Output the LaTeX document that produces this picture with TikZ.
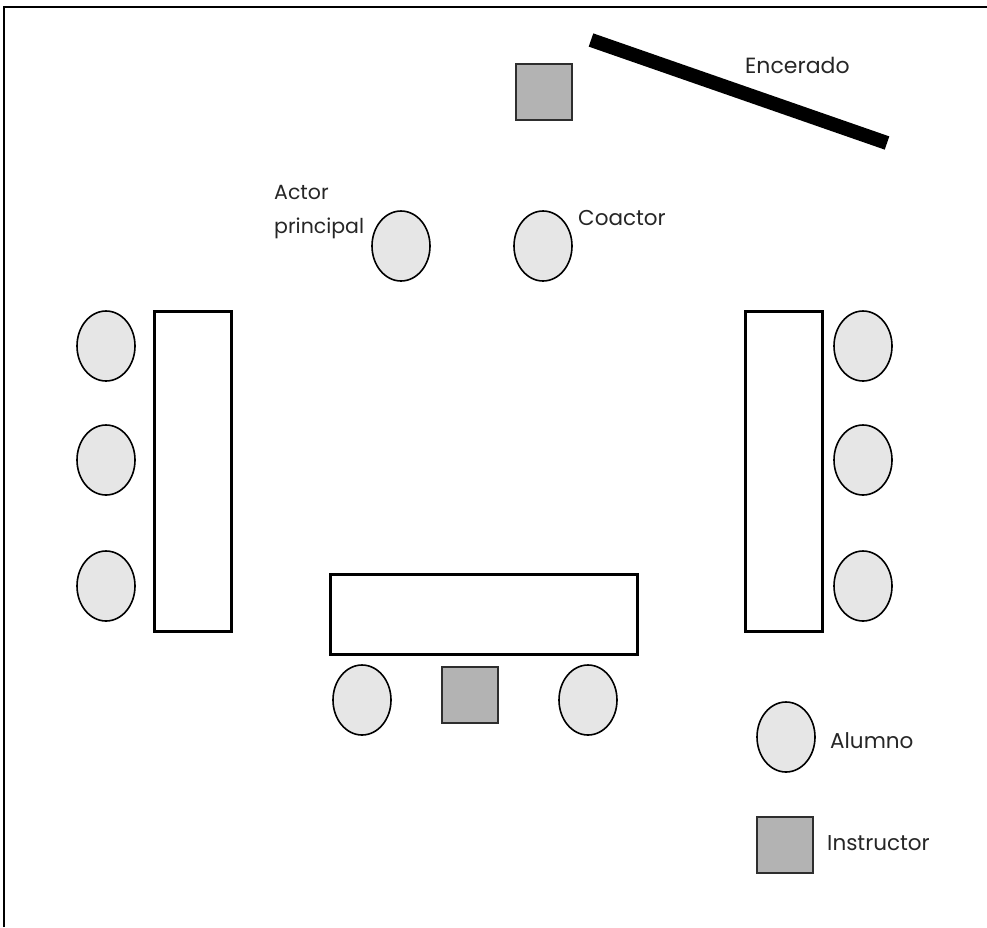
\documentclass[tikz,border=0pt]{standalone}
\usepackage{fontspec}
\setmainfont{Poppins}
\usetikzlibrary{shapes.geometric}
\definecolor{seatgray}{HTML}{E6E6E6}
\definecolor{instgray}{HTML}{B3B3B3}
\definecolor{edgegray}{HTML}{2E2E2E}
\tikzset{
  seat/.style={ellipse, draw=black, line width=1.6pt, fill=seatgray,
    minimum width=58pt, minimum height=70pt, inner sep=0pt},
  desk/.style={rectangle, draw=black, line width=3pt, fill=white, inner sep=0pt},
  inst/.style={rectangle, draw=edgegray, line width=2.2pt, fill=instgray,
    minimum size=56pt, inner sep=0pt},
  lbl/.style={anchor=base west, inner sep=0pt, text=black!85, font=\fontsize{21.5}{25}\selectfont},
  board/.style={line width=14pt, black}
}
\begin{document}
\begin{tikzpicture}[x=1pt,y=-1pt]
\useasboundingbox (0,0) rectangle (987,927);
% frame
\coordinate (fbl) at (4,927);
\coordinate (ftl) at (4,7);
\coordinate (ftr) at (987,7);
\draw[line width=1.5pt] (fbl) -- (ftl) -- (ftr);
% blackboard
\coordinate (b1) at (591,40);
\coordinate (b2) at (887,143);
\draw[board] (b1) -- (b2);
\node[lbl, font=\fontsize{22}{26}\selectfont] (enc) at (745,73) {Encerado};
% instructor near board
\node[inst] (itop) at (544,92) {};
% actors
\node[seat] (actor) at (401,246) {};
\node[seat] (coactor) at (543,246) {};
\node[lbl, font=\fontsize{20.5}{24}\selectfont] (actorl1) at (274,199) {Actor};
\node[lbl, font=\fontsize{20.5}{24}\selectfont] (actorl2) at (274,233) {principal};
\node[lbl] (coactorl) at (578,225) {Coactor};
% left desk and seats
\node[desk, minimum width=77pt, minimum height=320pt] (deskL) at (193,471.5) {};
\node[seat] (l1) at (106,346) {};
\node[seat] (l2) at (106,460) {};
\node[seat] (l3) at (106,586) {};
% right desk and seats
\node[desk, minimum width=77pt, minimum height=320pt] (deskR) at (784,471.5) {};
\node[seat] (r1) at (863,346) {};
\node[seat] (r2) at (863,460) {};
\node[seat] (r3) at (863,586) {};
% bottom desk, seats and instructor
\node[desk, minimum width=307pt, minimum height=80pt] (deskB) at (484,614.5) {};
\node[seat] (b1s) at (362,700) {};
\node[inst] (ibot) at (470,695) {};
\node[seat] (b2s) at (588,700) {};
% legend
\node[seat] (legseat) at (786,737) {};
\node[lbl] (legseatl) at (830,748) {Alumno};
\node[inst] (leginst) at (785,845) {};
\node[lbl] (leginstl) at (827,850) {Instructor};
\end{tikzpicture}
\end{document}
